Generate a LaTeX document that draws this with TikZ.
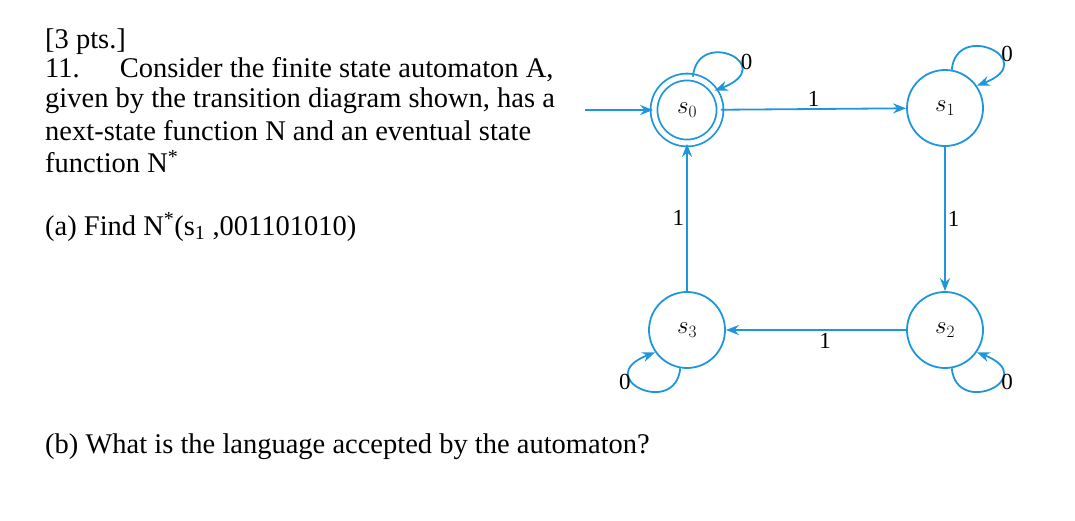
\documentclass[tikz,border=0pt]{standalone}
\usepackage{fontspec}
\setmainfont{Liberation Serif}
\usetikzlibrary{arrows.meta}
\definecolor{ab}{RGB}{30,150,220}
\begin{document}
\begin{tikzpicture}[x=1pt,y=-1pt,
  txt/.style={anchor=west,inner sep=0pt,font=\fontsize{28.5}{30}\selectfont},
  st/.style={circle,draw=ab,line width=1.8pt,minimum size=76pt,inner sep=0pt,font=\fontsize{26}{28}\selectfont},
  ed/.style={draw=ab,line width=1.8pt,-{Stealth[length=13pt,width=10pt]}},
  lb/.style={font=\fontsize{23}{26}\selectfont,inner sep=2pt}]
\useasboundingbox (0,0) rectangle (1075,520);
\node[txt] (t1) at (45,42) {[3 pts.]};
\node[txt] (t2) at (45,70) {11.\hspace{40pt}Consider the finite state automaton A,};
\node[txt] (t3) at (45,101) {given by the transition diagram shown, has a};
\node[txt] (t4) at (45,131) {next-state function N and an eventual state};
\node[txt] (t5) at (45,162) {function N\textsuperscript{*}};
\node[txt] (t6) at (45,227) {(a) Find N\textsuperscript{*}(s\textsubscript{1} ,001101010)};
\node[txt] (t7) at (45,447) {(b) What is the language accepted by the automaton?};
\node[st,double=white,double distance=5pt,minimum size=66pt] (s0) at (687,110) {$s_0$};
\node[st] (s1) at (945,108) {$s_1$};
\node[st] (s2) at (945,330) {$s_2$};
\node[st] (s3) at (687,330) {$s_3$};
\coordinate (in) at (585,110);
\draw[ed] (in) -- (s0);
\draw[ed] (s0) -- node[lb,above,pos=0.5] {1} (s1);
\draw[ed] (s1) -- node[lb,right] {1} (s2);
\draw[ed] (s2) -- node[lb,below,pos=0.45] {1} (s3);
\draw[ed] (s3) -- node[lb,left] {1} (s0);
\draw[ed] (s0.80) .. controls +(5,-50) and +(65,-25) .. node[lb,pos=0.5,right,xshift=8pt,yshift=-6pt] {0} (s0.35);
\draw[ed] (s1.80) .. controls +(5,-50) and +(65,-25) .. node[lb,pos=0.5,right,xshift=8pt,yshift=-4pt] {0} (s1.35);
\draw[ed] (s2.-80) .. controls +(5,50) and +(65,25) .. node[lb,pos=0.5,right,xshift=8pt,yshift=6pt] {0} (s2.-35);
\draw[ed] (s3.-100) .. controls +(-5,50) and +(-65,25) .. node[lb,pos=0.5,left,xshift=-8pt,yshift=6pt] {0} (s3.-145);
\end{tikzpicture}
\end{document}
